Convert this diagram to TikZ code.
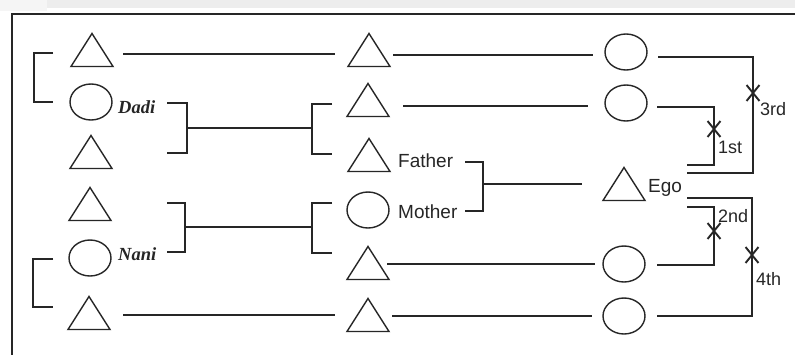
\documentclass[tikz,border=0pt]{standalone}
\usepackage{fontspec}
\setmainfont{Liberation Sans}
\newfontfamily\kinfont{Liberation Serif}
\usetikzlibrary{shapes.geometric,shapes.misc}

\tikzset{
  link/.style={line width=1.4pt, black!85},
  frameline/.style={line width=2pt, black!85},
  tribox/.style={minimum width=42pt, minimum height=33pt, inner sep=0pt, outer sep=0pt},
  circ/.style={draw, line width=1.4pt, black!85, ellipse, minimum width=42pt, minimum height=36pt, inner sep=0pt, outer sep=0pt},
  xmark/.style={draw, line width=1.9pt, black!85, cross out, minimum width=11pt, minimum height=14pt, inner sep=0pt},
  kin/.style={anchor=base west, inner sep=0pt, font=\fontsize{19}{22}\selectfont, text=black!85},
  ord/.style={anchor=base west, inner sep=0pt, font=\fontsize{18}{21}\selectfont, text=black!85},
  elder/.style={anchor=base west, inner sep=0pt, font=\kinfont\bfseries\itshape\fontsize{18.5}{21}\selectfont, text=black!85}
}

\begin{document}
\begin{tikzpicture}[x=1pt, y=-1pt]
\useasboundingbox (0,0) rectangle (795,354);
\clip (0,0) rectangle (795,354);
\fill[white] (0,0) rectangle (795,354);
\fill[black!7] (0,0) rectangle (795,8);
\fill[black!4] (0,0) rectangle (47,11);

% outer frame (only its top and left sides fall inside the page)
\draw[frameline] (12,370) |- (810,14);

% first generation
\node[tribox] (a1) at (92,50) {};
\node[circ]   (a2) at (91,102) {};
\node[tribox] (a3) at (91,152) {};
\node[tribox] (a4) at (90,204) {};
\node[circ]   (a5) at (90,258) {};
\node[tribox] (a6) at (89,313) {};

% second generation
\node[tribox] (b1) at (369,50) {};
\node[tribox] (b2) at (368,100) {};
\node[tribox] (b3) at (369,155) {};
\node[circ]   (b4) at (368,210) {};
\node[tribox] (b5) at (368,263) {};
\node[tribox] (b6) at (368,315) {};

% ego's generation
\node[circ]   (c1) at (626,52) {};
\node[circ]   (c2) at (626,103) {};
\node[tribox] (ego) at (624,184) {};
\node[circ]   (c5) at (624,264) {};
\node[circ]   (c6) at (624,316) {};

% triangles (males)
\foreach \n in {a1,a3,a4,a6,b1,b2,b3,b5,b6,ego}
  \draw[link, line join=miter] (\n.south west) -- (\n.north) -- (\n.south east) -- cycle;

% labels
\node[elder] (dadi)   at (118,113) {Dadi};
\node[elder] (nani)   at (118,260) {Nani};
\node[kin]   (father) at (398,167) {Father};
\node[kin]   (mother) at (398,218) {Mother};
\node[kin]   (egol)   at (648,192) {Ego};

% junctions of the brackets
\coordinate (lt) at (34,77.5);
\coordinate (lb) at (33,283);
\coordinate (dj) at (187,128);
\coordinate (pj) at (312,129);
\coordinate (nj) at (185,227);
\coordinate (mj) at (312,228);
\coordinate (fj) at (483,184);

% sibling brackets on the far left
\draw[link] ([shift={(19pt,24.5pt)}]lt) -| (lt) |- ([shift={(19pt,-24.5pt)}]lt);
\draw[link] ([shift={(20pt,24pt)}]lb) -| (lb) |- ([shift={(20pt,-24pt)}]lb);

% marriage brackets and descent lines
\draw[link] ([shift={(-20pt,25pt)}]dj) -| (dj) |- ([shift={(-20pt,-25pt)}]dj);
\draw[link] (dj) -- (dj -| pj);
\draw[link] ([shift={(20pt,25pt)}]pj) -| (pj) |- ([shift={(20pt,-25pt)}]pj);

\draw[link] ([shift={(-18pt,24pt)}]nj) -| (nj) |- ([shift={(-18pt,-25pt)}]nj);
\draw[link] (nj) -- (nj -| mj);
\draw[link] ([shift={(20pt,25pt)}]mj) -| (mj) |- ([shift={(20pt,-25pt)}]mj);

\draw[link] ([shift={(-18pt,22pt)}]fj) -| (fj) |- ([shift={(-18pt,-27pt)}]fj);
\draw[link] (fj) -- ([xshift=-21pt]ego.west);

% horizontal lines of descent
\draw[link] ([xshift=10pt,yshift=-4pt]a1.east) -- ([xshift=-13pt,yshift=-4pt]b1.west);
\draw[link] ([xshift=3pt,yshift=-5pt]b1.east) -- ([xshift=-12pt,yshift=-3pt]c1.west);
\draw[link] ([xshift=14pt,yshift=-6pt]b2.east) -- ([xshift=-17pt,yshift=-3pt]c2.west);
\draw[link] ([xshift=-2pt,yshift=-1pt]b5.east) -- ([xshift=-8pt]c5.west);
\draw[link] ([xshift=13pt,yshift=-2pt]a6.east) -- ([xshift=-12pt]b6.west);
\draw[link] ([xshift=3pt,yshift=-1pt]b6.east) -- ([xshift=-11pt]c6.west);

% cousin links from ego, each crossed out
\coordinate (e3) at (687,173);
\coordinate (e1) at (687,165);
\coordinate (e4) at (687,198);
\coordinate (e2) at (687,207);
\coordinate (x3) at (753,93);
\coordinate (x1) at (714,129);
\coordinate (x2) at (714,231);
\coordinate (x4) at (752,255);

\draw[link] ([xshift=11pt,yshift=-5pt]c1.east) -| (x3) |- (e3);
\draw[link] ([xshift=10pt,yshift=-4pt]c2.east) -| (x1) |- (e1);
\draw[link] (e2) -| (x2) |- ([xshift=12pt,yshift=-1pt]c5.east);
\draw[link] (e4) -| (x4) |- ([xshift=12pt]c6.east);

\node[xmark] (m3) at (x3) {};
\node[xmark] (m1) at (x1) {};
\node[xmark] (m2) at (x2) {};
\node[xmark] (m4) at (x4) {};

\node[ord] (l3) at (760,115) {3rd};
\node[ord] (l1) at (718,153) {1st};
\node[ord] (l2) at (718,222) {2nd};
\node[ord] (l4) at (756,285) {4th};
\end{tikzpicture}
\end{document}
